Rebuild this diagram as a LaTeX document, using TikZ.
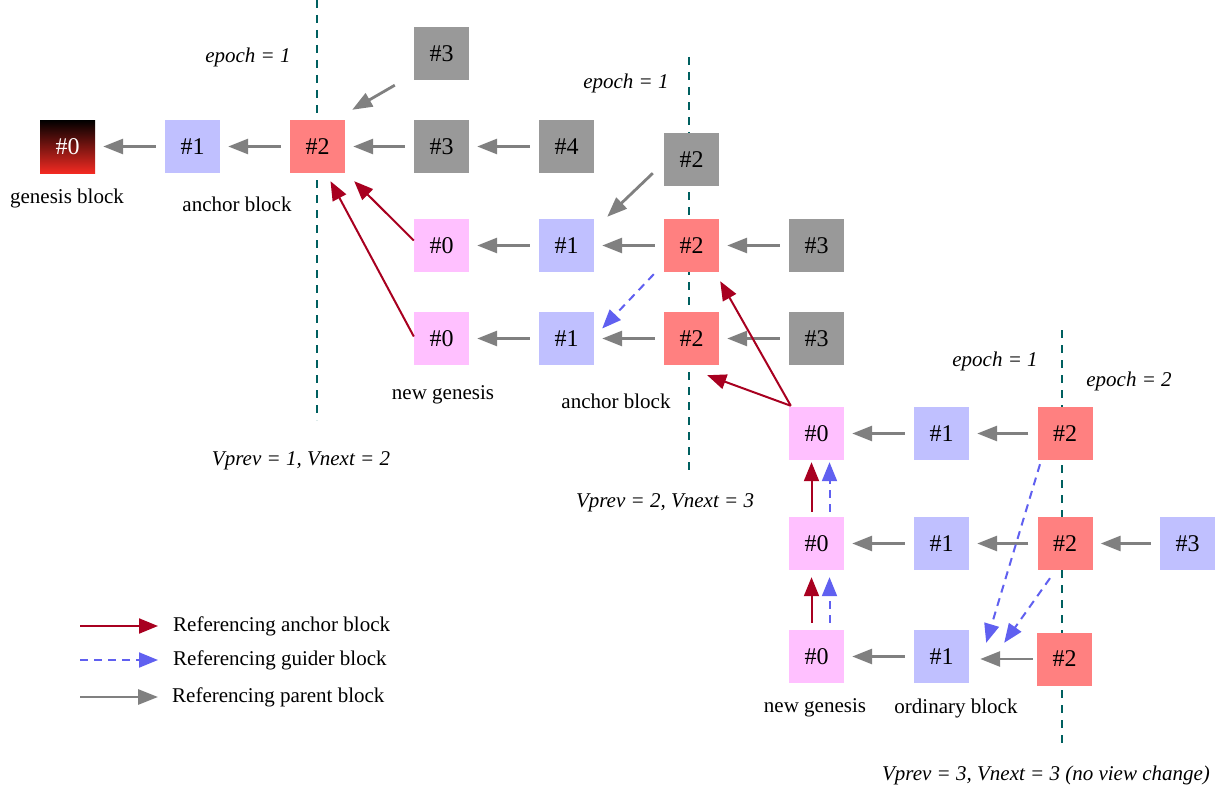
\documentclass[tikz,border=0pt]{standalone}
\usepackage{fontspec}
\setmainfont{Liberation Serif}
\usetikzlibrary{arrows.meta,calc}
\definecolor{cgray}{HTML}{999999}
\definecolor{cblue}{HTML}{C0C0FF}
\definecolor{cred}{HTML}{FF8080}
\definecolor{cpink}{HTML}{FFC0FF}
\definecolor{agray}{HTML}{808080}
\definecolor{ared}{HTML}{A80020}
\definecolor{ablue}{HTML}{6060F0}
\definecolor{tealline}{HTML}{006060}
\definecolor{gred}{HTML}{F22A22}
\begin{document}
\begin{tikzpicture}[x=1pt,y=-1pt,
  blk/.style={minimum width=55pt,minimum height=53pt,inner sep=0pt,font=\fontsize{24}{28}\selectfont},
  gbox/.style={blk,fill=cgray},
  bbox/.style={blk,fill=cblue},
  rbox/.style={blk,fill=cred},
  pbox/.style={blk,fill=cpink},
  lbl/.style={font=\fontsize{21}{25}\selectfont,inner sep=0pt},
  ilbl/.style={font=\fontsize{21}{25}\selectfont\itshape,inner sep=0pt},
  parr/.style={draw=agray,line width=2.8pt,-{Triangle[length=20pt,width=15pt]}},
  pararrow/.style={parr,shorten >=8pt,shorten <=9pt},
  anc/.style={draw=ared,line width=2pt,-{Triangle[length=19pt,width=15pt]}},
  gui/.style={draw=ablue,line width=2pt,dash pattern=on 8pt off 6pt,-{Triangle[length=19pt,width=15pt]}},
  epl/.style={draw=tealline,line width=2.5pt,dash pattern=on 8pt off 7pt}]
\useasboundingbox (0,0) rectangle (1224,792);
\fill[white] (0,0) rectangle (1224,792);
% epoch boundary lines
\draw[epl] (317,0) -- (317,420);
\draw[epl] (689,57) -- (689,476);
\draw[epl] (1062,330) -- (1062,748);
% row A
\node[blk,top color=black,bottom color=gred,text=white] (a0) at (67.5,146.5) {\#0};
\node[bbox] (a1) at (192.5,146.5) {\#1};
\node[rbox] (a2) at (317.5,146.5) {\#2};
\node[gbox] (a3) at (441.5,146.5) {\#3};
\node[gbox] (a4) at (566.5,146.5) {\#4};
\node[gbox] (t3) at (441.5,53.5) {\#3};
% row B
\node[pbox] (b0) at (441.5,245.5) {\#0};
\node[bbox] (b1) at (566.5,245.5) {\#1};
\node[rbox] (b2) at (691.5,245.5) {\#2};
\node[gbox] (b3) at (816.5,245.5) {\#3};
\node[gbox] (t2) at (691.5,159.5) {\#2};
% row C
\node[pbox] (c0) at (441.5,338.5) {\#0};
\node[bbox] (c1) at (566.5,338.5) {\#1};
\node[rbox] (c2) at (691.5,338.5) {\#2};
\node[gbox] (c3) at (816.5,338.5) {\#3};
% row D
\node[pbox] (d0) at (816.5,433.5) {\#0};
\node[bbox] (d1) at (941.5,433.5) {\#1};
\node[rbox] (d2) at (1065,433.5) {\#2};
% row E
\node[pbox] (e0) at (816.5,543.5) {\#0};
\node[bbox] (e1) at (941.5,543.5) {\#1};
\node[rbox] (e2) at (1065,543.5) {\#2};
\node[bbox] (e3) at (1187.5,543.5) {\#3};
% row F
\node[pbox] (f0) at (816.5,656.5) {\#0};
\node[bbox] (f1) at (941.5,656.5) {\#1};
\node[rbox] (f2) at (1064.5,659) {\#2};
% labels
\node[ilbl] (ep1) at (248,57) {epoch = 1};
\node[ilbl] (ep2) at (626,83) {epoch = 1};
\node[ilbl] (ep3) at (995,361) {epoch = 1};
\node[ilbl] (ep4) at (1129,381) {epoch = 2};
\node[lbl] (lgen) at (67,198) {genesis block};
\node[lbl] (lanc1) at (237,204) {anchor block};
\node[lbl] (lng1) at (443,395) {new genesis};
\node[lbl] (lanc2) at (616,401) {anchor block};
\node[lbl] (lng2) at (815,708) {new genesis};
\node[lbl] (lord) at (956,708) {ordinary block};
\node[ilbl] (v1) at (301,461) {Vprev = 1, Vnext = 2};
\node[ilbl] (v2) at (665,503) {Vprev = 2, Vnext = 3};
\node[ilbl] (v3) at (1046,775) {Vprev = 3, Vnext = 3 (no view change)};
% parent arrows
\draw[pararrow] (a1) -- (a0);
\draw[pararrow] (a2) -- (a1);
\draw[pararrow] (a3) -- (a2);
\draw[pararrow] (a4) -- (a3);
\draw[pararrow] (b1) -- (b0);
\draw[pararrow] (b2) -- (b1);
\draw[pararrow] (b3) -- (b2);
\draw[pararrow] (c1) -- (c0);
\draw[pararrow] (c2) -- (c1);
\draw[pararrow] (c3) -- (c2);
\draw[pararrow] (d1) -- (d0);
\draw[pararrow] (d2) -- (d1);
\draw[pararrow] (e1) -- (e0);
\draw[pararrow] (e2) -- (e1);
\draw[pararrow] (e3) -- (e2);
\draw[pararrow] (f1) -- (f0);
\draw[parr,shorten >=11pt,shorten <=4pt] (f2.west) -- (f2.west -| f1.east);
\draw[parr] ($(t3.south west)+(-19,5)$) -- ($(a2.north east)+(7,-10)$);
\draw[parr] ($(t2.south west)+(-11,-13)$) -- ($(b1.north east)+(13,-2)$);
% anchor arrows
\draw[anc] ($(b0.west)+(0,-5)$) -- ($(a2.south east)+(9,8)$);
\draw[anc] ($(c0.west)+(0,-2)$) -- ($(a2.south)+(13,8)$);
\draw[anc] ($(d0.north west)+(2,-1)$) -- ($(b2.south east)+(1,9)$);
\draw[anc] ($(d0.north west)+(2,-1)$) -- ($(c2.south east)+(-12,10)$);
\draw[anc] ($(e0.north)+(-5,-5)$) -- ($(d0.south)+(-5,2)$);
\draw[anc] ($(f0.north)+(-5,-7)$) -- ($(e0.south)+(-5,7)$);
% guider arrows
\draw[gui] ($(b2.south west)+(-10,2)$) -- ($(c1.east)+(8,-10)$);
\draw[gui] ($(e0.north)+(13,-5)$) -- ($(d0.south)+(13,2)$);
\draw[gui] ($(f0.north)+(13,-7)$) -- ($(e0.south)+(13,7)$);
\draw[gui] ($(d2.south)+(-25,4)$) -- ($(f1.north east)+(17,13)$);
\draw[gui] ($(e2.south)+(-15,8)$) -- ($(f1.north east)+(35,13)$);
% legend
\coordinate (la1) at (80,626); \coordinate (lb1) at (158,626);
\coordinate (la2) at (80,660); \coordinate (lb2) at (158,660);
\coordinate (la3) at (80,697); \coordinate (lb3) at (158,697);
\draw[anc] (la1) -- (lb1);
\draw[gui] (la2) -- (lb2);
\draw[parr] (la3) -- (lb3);
\node[lbl,anchor=west] (lt1) at (173,626) {Referencing anchor block};
\node[lbl,anchor=west] (lt2) at (173,660) {Referencing guider block};
\node[lbl,anchor=west] (lt3) at (172,697) {Referencing parent block};
\end{tikzpicture}
\end{document}
